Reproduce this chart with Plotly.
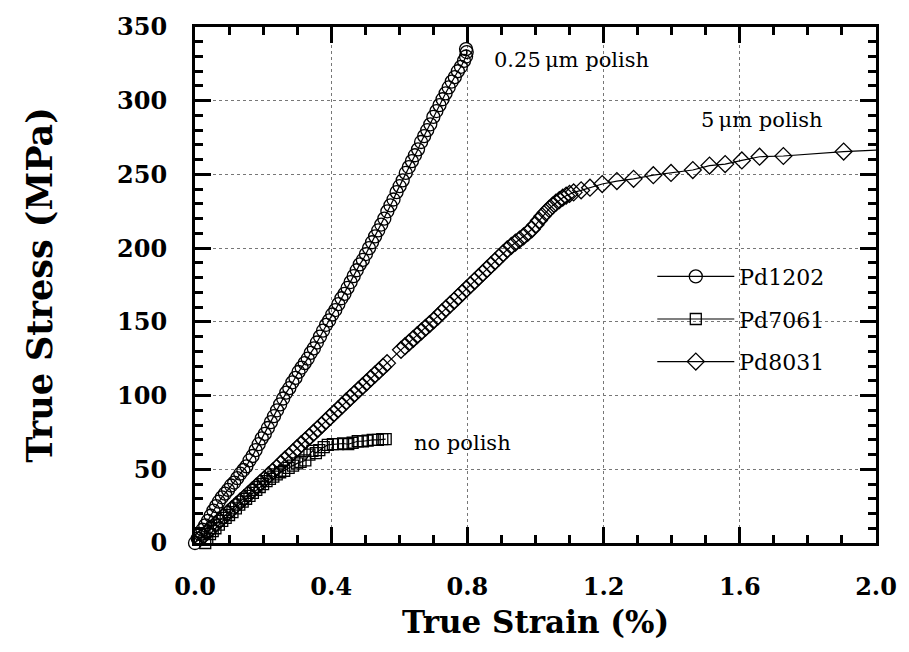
import plotly.graph_objects as go

# True strain (%) / true stress (MPa) for three Pd specimens
pd1202_strain = [0.000, 0.008, 0.015, 0.022, 0.030, 0.038, 0.046, 0.054, 0.062, 0.070,
                 0.079, 0.088, 0.097, 0.106, 0.115, 0.124, 0.133, 0.142, 0.151, 0.160,
                 0.169, 0.178, 0.187, 0.196, 0.205, 0.214, 0.223, 0.232, 0.241, 0.250,
                 0.259, 0.268, 0.277, 0.286, 0.295, 0.304, 0.313, 0.322, 0.331, 0.340,
                 0.349, 0.358, 0.367, 0.376, 0.385, 0.394, 0.403, 0.412, 0.421, 0.430,
                 0.439, 0.448, 0.457, 0.466, 0.475, 0.484, 0.493, 0.502, 0.511, 0.520,
                 0.529, 0.538, 0.547, 0.556, 0.565, 0.574, 0.583, 0.592, 0.601, 0.610,
                 0.619, 0.628, 0.637, 0.646, 0.655, 0.664, 0.673, 0.682, 0.691, 0.700,
                 0.709, 0.718, 0.727, 0.736, 0.745, 0.754, 0.763, 0.772, 0.781, 0.790,
                 0.796, 0.798, 0.796]
pd1202_stress = [0, 3, 6, 9, 12, 15, 18.5, 22, 25, 28,
                 31, 33.5, 36, 39, 41, 44, 47, 49.5, 52, 56,
                 59, 63, 67, 71, 74, 78, 82, 86, 90, 94,
                 98, 102, 105, 109, 112, 116, 119, 122, 125, 129,
                 132, 136, 140, 144, 148, 151, 155, 158, 162, 166,
                 169, 173, 177, 181, 185, 189, 192, 196, 200, 204,
                 208, 212, 216, 220, 225, 229, 233, 238, 242, 246,
                 251, 255, 259, 263, 267, 272, 276, 280, 284, 289,
                 293, 297, 301, 305, 309, 313, 316, 320, 323, 327,
                 330, 333, 335]

pd7061_strain = [0.030, 0.036, 0.044, 0.052, 0.060, 0.070, 0.080, 0.090, 0.100, 0.110,
                 0.120, 0.130, 0.140, 0.150, 0.160, 0.170, 0.180, 0.190, 0.200, 0.210,
                 0.220, 0.230, 0.240, 0.250, 0.262, 0.275, 0.288, 0.300, 0.310, 0.324,
                 0.336, 0.345, 0.355, 0.365, 0.378, 0.390, 0.405, 0.420, 0.435, 0.450,
                 0.463, 0.478, 0.493, 0.507, 0.522, 0.537, 0.550, 0.560]
pd7061_stress = [0, 3, 6, 8, 10, 12.5, 15, 17, 19, 21,
                 23.5, 26, 28, 30, 32, 34, 36, 38, 40, 42,
                 43.5, 45, 46.5, 48, 49, 51, 52.5, 54, 55, 56,
                 60, 62.5, 61, 63, 65, 66.5, 67, 67, 67.5, 67,
                 68, 69, 69, 69.5, 70, 70, 70.5, 70.5]

pd8031_strain = [0.000, 0.012, 0.024, 0.036, 0.048, 0.060, 0.072, 0.084, 0.096, 0.108,
                 0.120, 0.132, 0.144, 0.156, 0.168, 0.180, 0.192, 0.204, 0.216, 0.228,
                 0.240, 0.252, 0.264, 0.276, 0.288, 0.300, 0.312, 0.324, 0.336, 0.348,
                 0.360, 0.372, 0.384, 0.396, 0.408, 0.420, 0.432, 0.444, 0.456, 0.468,
                 0.480, 0.492, 0.504, 0.516, 0.528, 0.540, 0.552, 0.564, 0.605, 0.617,
                 0.629, 0.641, 0.653, 0.665, 0.677, 0.689, 0.701, 0.713, 0.725, 0.737,
                 0.749, 0.761, 0.773, 0.785, 0.797, 0.809, 0.821, 0.833, 0.845, 0.857,
                 0.869, 0.881, 0.893, 0.905, 0.917, 0.929, 0.941, 0.953, 0.965, 0.977,
                 0.989, 1.000, 1.010, 1.020, 1.030, 1.040, 1.050, 1.060, 1.070, 1.080,
                 1.090, 1.100, 1.112, 1.134, 1.160, 1.196, 1.239, 1.288, 1.346, 1.398,
                 1.462, 1.511, 1.557, 1.606, 1.658, 1.728, 1.905, 2.080]
pd8031_stress = [0, 2.5, 5, 7.5, 10, 12.8, 15.3, 18, 20.5, 23,
                 25.5, 28, 30.5, 33, 35.7, 38.2, 40.8, 43.3, 46, 48.5,
                 51, 53.8, 56.5, 59, 61.6, 64.3, 67, 69.5, 72, 74.7,
                 77.3, 80, 82.6, 85.3, 88, 90.6, 93.3, 96, 98.6, 101.2,
                 103.8, 106.4, 109, 111.6, 114.2, 116.8, 119.4, 122, 131, 133.5,
                 136, 138.5, 141, 143.5, 146, 148.5, 151, 153.5, 156.5, 159,
                 161.7, 164.3, 167, 169.7, 172.3, 175, 177.7, 180.4, 183, 185.7,
                 188.4, 191, 193.8, 196.5, 199.2, 201.5, 203.7, 205.8, 208, 210.3,
                 212.8, 215.8, 218.8, 221.6, 224.2, 226.6, 228.8, 230.8, 232.6, 234.2,
                 235.6, 236.8, 237.8, 239.2, 241, 243.5, 245.5, 247, 249.5, 251,
                 253, 256, 257, 259.5, 262, 262.5, 265.5, 267.2]

x_ticks = [0.0, 0.4, 0.8, 1.2, 1.6, 2.0]
x_tick_labels = ["0.0", "0.4", "0.8", "1.2", "1.6", "2.0"]
y_ticks = [0, 50, 100, 150, 200, 250, 300, 350]

SERIF = "DejaVu Serif"
INK = "black"

fig = go.Figure()

series = [
    ("Pd1202", pd1202_strain, pd1202_stress, "circle-open", 13, False),
    ("Pd7061", pd7061_strain, pd7061_stress, "square-open", 11, False),
    ("Pd8031", pd8031_strain, pd8031_stress, "diamond-open", 13, True),
]
for name, xs, ys, symbol, size, clip in series:
    fig.add_trace(go.Scatter(
        x=xs, y=ys, name=name, legendgroup=name,
        mode="lines+markers",
        line=dict(color=INK, width=1.2),
        marker=dict(symbol=symbol, size=size, color=INK,
                    line=dict(color=INK, width=1.3)),
        cliponaxis=clip,
    ))

axis_common = dict(
    showline=True, linecolor=INK, linewidth=3, mirror="allticks",
    ticks="inside", ticklen=16, tickwidth=3, tickcolor=INK,
    showgrid=True, gridcolor="#777777", gridwidth=1, griddash="dot",
    zeroline=False,
    tickfont=dict(family=SERIF, size=24, color=INK, weight="bold"),
    ticklabelstandoff=20,
)

fig.update_xaxes(
    range=[0, 2.0], tickvals=x_ticks, ticktext=x_tick_labels,
    minor=dict(ticks="inside", dtick=0.1, ticklen=8, tickwidth=3,
               tickcolor=INK, showgrid=False),
    title=dict(text="True Strain (%)", standoff=12,
               font=dict(family=SERIF, size=31, color=INK, weight="bold")),
    **axis_common,
)
fig.update_yaxes(
    range=[0, 350], tickvals=y_ticks,
    minor=dict(ticks="inside", dtick=10, ticklen=8, tickwidth=3,
               tickcolor=INK, showgrid=False),
    title=dict(text="True Stress (MPa)", standoff=54,
               font=dict(family=SERIF, size=35, color=INK, weight="bold")),
    **axis_common,
)

notes = [
    ("0.25\u2009\u03bcm polish", 0.871, 327.7),
    ("5\u2009\u03bcm polish", 1.479, 286.6),
    ("no polish", 0.637, 68),
]
for text, ax, ay in notes:
    fig.add_annotation(x=ax, y=ay, text=text, showarrow=False,
                       xanchor="left", yanchor="middle",
                       font=dict(family=SERIF, size=21, color=INK))

fig.update_layout(
    width=909, height=652,
    margin=dict(l=195, r=23, t=24, b=109),
    paper_bgcolor="white", plot_bgcolor="white",
    legend=dict(x=0.6715, y=0.557, xanchor="left", yanchor="top",
                bgcolor="rgba(0,0,0,0)", itemwidth=77,
                tracegroupgap=11, traceorder="grouped",
                font=dict(family=SERIF, size=22, color=INK)),
)

fig.write_html("out.html")
